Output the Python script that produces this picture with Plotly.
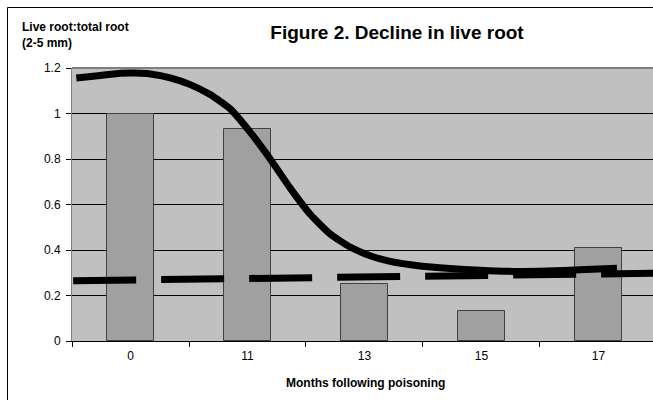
import plotly.graph_objects as go

# ---- data ----
months = ["0", "11", "13", "15", "17"]
ratio = [1.0, 0.93, 0.25, 0.13, 0.41]

# smooth trend curve, x in category units
curve_x = [-0.463, -0.258, -0.087, 0.041, 0.169, 0.340, 0.511, 0.681, 0.852,
           1.023, 1.194, 1.365, 1.536, 1.707, 1.877, 2.048, 2.219, 2.475,
           2.731, 2.988, 3.270, 3.560, 3.842, 4.158]
curve_y = [1.156, 1.167, 1.177, 1.178, 1.174, 1.157, 1.127, 1.083, 1.020,
           0.918, 0.800, 0.672, 0.557, 0.470, 0.413, 0.375, 0.350, 0.330,
           0.319, 0.311, 0.306, 0.308, 0.313, 0.320]

# linear trend (dashed)
trend_x = [-0.49, 4.5]
trend_y = [0.265, 0.298]

yticks = [0, 0.2, 0.4, 0.6, 0.8, 1.0, 1.2]
ytick_text = ["0", "0.2", "0.4", "0.6", "0.8", "1", "1.2"]

FONT = "Arial, Liberation Sans, sans-serif"

W, H = 653, 400
L, R, T, B = 72, 0, 68, 59
pw = W - L - R
ph = H - T - B

def px_x(x):
    return (x - L) / pw

def px_y(y):
    return (H - B - y) / ph

fig = go.Figure()

fig.add_trace(go.Bar(
    x=list(range(len(months))), y=ratio, width=0.41,
    marker=dict(color="#A0A0A0", line=dict(color="#404040", width=1)),
    showlegend=False, hoverinfo="skip",
))

fig.add_trace(go.Scatter(
    x=trend_x, y=trend_y, mode="lines",
    line=dict(color="black", width=7, dash="63px,25px"),
    showlegend=False, hoverinfo="skip",
))

fig.add_trace(go.Scatter(
    x=curve_x, y=curve_y, mode="lines",
    line=dict(color="black", width=7, shape="spline", smoothing=0.5),
    showlegend=False, hoverinfo="skip",
))

fig.update_layout(
    width=W, height=H,
    margin=dict(l=L, r=R, t=T, b=B),
    paper_bgcolor="white",
    plot_bgcolor="#C0C0C0",
    font=dict(family=FONT, size=12, color="black"),
    title=dict(text="<b>Figure 2. Decline in live root</b>",
               font=dict(family=FONT, size=19, color="black"),
               x=397 / W, xanchor="center", y=1 - 32 / H, yanchor="middle"),
    bargap=0,
)

fig.update_xaxes(
    range=[-0.5, 4.466],
    tickmode="array", tickvals=list(range(len(months))), ticktext=months,
    ticks="", showgrid=False, zeroline=False,
    showline=True, linecolor="black", linewidth=1,
    tickfont=dict(family=FONT, size=12, color="black"),
    ticklabelstandoff=4,
    minor=dict(tickvals=[-0.5, 0.5, 1.5, 2.5, 3.5], ticks="outside",
               ticklen=5, tickcolor="black", tickwidth=1, showgrid=False),
)

fig.update_yaxes(
    range=[0, 1.2],
    tickmode="array", tickvals=yticks, ticktext=ytick_text,
    ticks="outside", ticklen=5, tickcolor="black",
    showgrid=True, gridcolor="black", gridwidth=1,
    zeroline=False,
    showline=True, linecolor="#808080", linewidth=1,
    tickfont=dict(family=FONT, size=12, color="black"),
    ticklabelstandoff=3,
)

# top border of plot area (gray)
fig.add_shape(type="line", xref="paper", yref="paper",
              x0=0, x1=1, y0=1, y1=1,
              line=dict(color="#808080", width=2), layer="above")
# outer chart frame
fig.add_shape(type="rect", xref="paper", yref="paper",
              x0=px_x(7.5), x1=px_x(700), y0=px_y(450), y1=px_y(7.5),
              line=dict(color="black", width=1), fillcolor="rgba(0,0,0,0)",
              layer="above")

fig.add_annotation(text="<b>Live root:total root<br>(2-5 mm)</b>",
                   xref="paper", yref="paper", x=px_x(20), y=px_y(35),
                   xanchor="left", yanchor="middle", align="left",
                   showarrow=False, font=dict(family=FONT, size=12, color="black"))
fig.add_annotation(text="<b>Months following poisoning</b>",
                   xref="paper", yref="paper", x=px_x(365), y=px_y(383),
                   xanchor="center", yanchor="middle",
                   showarrow=False, font=dict(family=FONT, size=12, color="black"))

fig.write_html(
    "out.html",
    config={"displayModeBar": False},
    post_script="document.body.style.margin='0';document.body.style.overflow='hidden';",
)
